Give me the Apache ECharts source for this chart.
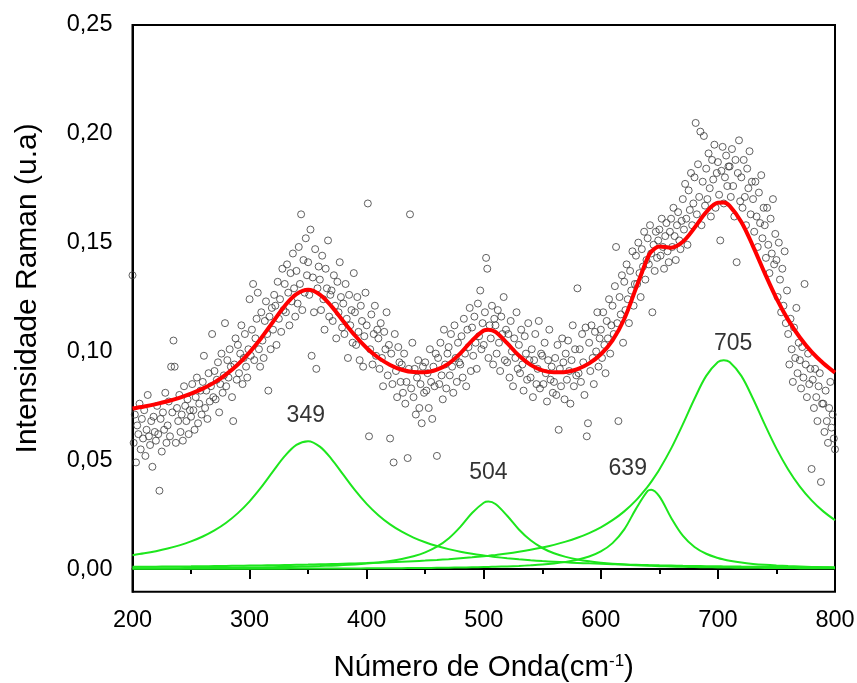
<!DOCTYPE html>
<html>
<head>
<meta charset="utf-8">
<script src="https://cdn.jsdelivr.net/npm/echarts@6/dist/echarts.min.js"></script>
<style>
  html, body { margin: 0; padding: 0; background: #fff; }
  #chart { width: 857px; height: 683px; }
</style>
</head>
<body>
<div id="chart"></div>
<script>
// measured spectrum, one point per cm-1 starting at 200 (intensity in 1e-3 u.a)
const spectrumStart = 200
const ramanIntensity = [
  135, 58, 71, 49, 66, 62, 76, 55, 69, 60,
  73, 52, 64, 80, 61, 57, 68, 47, 70, 63,
  59, 75, 62, 36, 69, 54, 72, 64, 81, 58,
  66, 77, 61, 93, 72, 105, 93, 58, 74, 68,
  80, 63, 71, 59, 84, 75, 68, 78, 62, 73,
  70, 85, 73, 64, 79, 88, 67, 76, 82, 71,
  86, 98, 74, 82, 69, 90, 77, 84, 108, 79,
  91, 78, 87, 95, 72, 85, 99, 81, 89, 113,
  84, 96, 88, 101, 93, 79, 68, 94, 106, 87,
  103, 90, 99, 112, 85, 97, 108, 93, 88, 101,
  124, 98, 110, 131, 96, 106, 115, 127, 101, 93,
  118, 105, 97, 114, 123, 108, 82, 116, 101, 120,
  110, 126, 121, 103, 132, 115, 124, 109, 138, 119,
  131, 118, 140, 127, 112, 136, 123, 145, 129, 116,
  137, 122, 148, 131, 163, 119, 142, 127, 152, 135,
  141, 126, 156, 98, 134, 118, 147, 92, 129, 139,
  133, 119, 144, 124, 110, 138, 129, 151, 116, 126,
  128, 114, 135, 121, 106, 132, 118, 141, 125, 111,
  122, 108, 131, 115, 97, 126, 112, 119, 104, 136,
  118, 103, 125, 109, 96, 121, 114, 93, 107, 127,
  112, 168, 61, 101, 117, 94, 108, 121, 98, 110,
  106, 92, 113, 97, 84, 109, 101, 118, 89, 103,
  60, 99, 85, 49, 108, 91, 79, 102, 95, 86,
  94, 81, 99, 76, 86, 51, 92, 163, 83, 104,
  79, 92, 71, 88, 96, 74, 85, 67, 93, 81,
  95, 82, 90, 74, 101, 86, 69, 93, 84, 99,
  52, 97, 85, 104, 89, 78, 110, 94, 83, 99,
  102, 89, 108, 93, 81, 112, 97, 86, 104, 95,
  94, 107, 88, 115, 99, 84, 110, 102, 120, 91,
  111, 98, 116, 104, 92, 122, 107, 128, 101, 113,
  103, 118, 143, 138, 97, 112, 106, 121, 94, 115,
  112, 99, 119, 104, 91, 116, 108, 125, 96, 110,
  95, 108, 88, 114, 100, 84, 106, 97, 118, 92,
  103, 90, 110, 94, 82, 107, 99, 87, 113, 96,
  88, 101, 79, 96, 108, 85, 92, 114, 83, 99,
  98, 85, 104, 90, 77, 96, 110, 87, 93, 81,
  86, 97, 80, 103, 64, 92, 84, 106, 95, 78,
  99, 87, 105, 91, 76, 96, 112, 84, 101, 89,
  129, 90, 101, 86, 108, 95, 80, 111, 61, 67,
  104, 91, 112, 97, 85, 109, 100, 118, 93, 106,
  110, 97, 118, 103, 90, 114, 106, 124, 99, 112,
  121, 108, 130, 148, 113, 68, 125, 117, 135, 104,
  132, 119, 140, 124, 113, 137, 128, 146, 121, 131,
  144, 131, 150, 136, 125, 147, 139, 155, 133, 142,
  152, 140, 158, 145, 118, 149, 137, 155, 143, 151,
  156, 144, 161, 148, 138, 153, 159, 146, 141, 155,
  161, 148, 166, 153, 142, 158, 164, 151, 147, 160,
  170, 156, 177, 161, 149, 174, 165, 182, 158, 168,
  180, 205, 163, 186, 171, 201, 158, 178, 199, 167,
  184, 170, 191, 175, 162, 188, 179, 195, 166, 182,
  187, 172, 151, 183, 194, 168, 180, 190, 176, 185,
  185, 171, 193, 176, 162, 188, 141, 182, 197, 169,
  180, 166, 188, 171, 158, 184, 175, 192, 163, 178,
  170, 155, 178, 162, 148, 173, 159, 181, 152, 166,
  158, 143, 166, 149, 136, 161, 145, 170, 140, 154,
  142, 125, 150, 133, 118, 138, 121, 146, 113, 128,
  108, 94, 115, 101, 86, 111, 97, 120, 90, 104,
  96, 83, 102, 88, 131, 94, 79, 99, 85, 92,
  46, 87, 74, 92, 79, 68, 84, 90, 40, 76,
  76, 63, 82, 68, 58, 74, 86, 65, 71, 60,
  55
]

// fitted curves, sampled every 10 cm-1 plus the peak centres 504, 643, 705
const fitX = [
  200, 210, 220, 230, 240, 250, 260, 270, 280, 290,
  300, 310, 320, 330, 340, 350, 360, 370, 380, 390,
  400, 410, 420, 430, 440, 450, 460, 470, 480, 490,
  500, 504, 510, 520, 530, 540, 550, 560, 570, 580, 590,
  600, 610, 620, 630, 640, 643, 650, 660, 670, 680, 690,
  700, 705, 710, 720, 730, 740, 750, 760, 770, 780, 790,
  800
]
const fitTotal = [
  .0738, .0747, .0758, .0771, .0787, .0806, .0829, .0858, .0895, .0940,
  .0996, .1062, .1136, .1209, .1263, .1283, .1261, .1207, .1139, .1073,
  .1016, .0971, .0938, .0916, .0905, .0904, .0916, .0944, .0991, .1050,
  .1096, .1100, .1090, .1038, .0981, .0938, .0913, .0904, .0906, .0919, .0945,
  .0987, .1051, .1149, .1290, .1431, .1458, .1482, .1477, .1504, .1568, .1640,
  .1683, .1684, .1669, .1595, .1483, .1360, .1244, .1145, .1064, .0998, .0946,
  .0903
]
const peak349 = [
  .00638, .00722, .00822, .00943, .0109, .01271, .01497, .01778, .0213, .02571,
  .03114, .03763, .04485, .05187, .05709, .05878, .05628, .05056, .04338, .03626,
  .02997, .02475, .02053, .01716, .01447, .01232, .01058, .00917, .008, .00704,
  .00623, .00595, .00555, .00498, .00448, .00406, .00369, .00337, .00308, .00284, .00262,
  .00242, .00224, .00209, .00195, .00182, .00178, .0017, .0016, .0015, .00142, .00134,
  .00126, .00123, .0012, .00113, .00108, .00102, .00097, .00093, .00088, .00084, .00081,
  .00077
]
const peak504 = [
  .00032, .00034, .00037, .00039, .00042, .00046, .00049, .00054, .00058, .00064,
  .0007, .00077, .00086, .00095, .00107, .00121, .00137, .00158, .00182, .00213,
  .00253, .00304, .00372, .00463, .00589, .00768, .01028, .01407, .01939, .02575,
  .03049, .031, .02988, .02448, .0182, .0132, .00968, .00727, .0056, .00442, .00356,
  .00293, .00244, .00207, .00177, .00153, .00147, .00134, .00118, .00104, .00093, .00084,
  .00076, .00072, .00069, .00063, .00057, .00053, .00048, .00045, .00042, .00039, .00036,
  .00034
]
const peak639 = [
  .0001, .0001, .00011, .00011, .00012, .00013, .00013, .00014, .00015, .00015,
  .00016, .00017, .00018, .0002, .00021, .00022, .00024, .00026, .00028, .0003,
  .00032, .00035, .00038, .00042, .00046, .00051, .00057, .00064, .00071, .00081,
  .00092, .00097, .00106, .00123, .00145, .00173, .00208, .0026, .0033, .00429, .00578,
  .00812, .01193, .01825, .02766, .03589, .0365, .03341, .0236, .01535, .01017, .00705,
  .00511, .00441, .00385, .00299, .00238, .00194, .00161, .00136, .00116, .001, .00087,
  .00077
]
const peak705 = [
  .00103, .00107, .00111, .00116, .00121, .00126, .00132, .00138, .00144, .00151,
  .00159, .00167, .00175, .00185, .00195, .00205, .00217, .0023, .00244, .00259,
  .00276, .00295, .00315, .00338, .00363, .0039, .00421, .00456, .00496, .0054,
  .00591, .00613, .00649, .00715, .00793, .00883, .00988, .01113, .01261, .01439, .01655,
  .0192, .02246, .02651, .03157, .0379, .04009, .04577, .05534, .06646, .07825, .08876,
  .09514, .096, .09514, .08876, .07825, .06646, .05534, .04577, .0379, .03157, .02651,
  .02246
]

const peakNames = ['349', '504', '639', '705']
const peakLabelX = [348, 504, 623, 713]
const peakLabelY = [0.0703, 0.0441, 0.046, 0.1034]

const yTicks = [0, 0.05, 0.1, 0.15, 0.2, 0.25]

const FONT = '"Liberation Sans", Arial, sans-serif'
const GREEN = '#1de61d'

const scatterData = ramanIntensity.map((v, i) => [spectrumStart + i, v / 1000])
const pairs = arr => fitX.map((x, i) => [x, arr[i]])

function greenLine(arr) {
  return {
    type: 'line',
    data: pairs(arr),
    smooth: 0.35,
    showSymbol: false,
    lineStyle: { color: GREEN, width: 2 },
    z: 3,
    silent: true
  }
}

const chart = echarts.init(document.getElementById('chart'), null, { renderer: 'canvas' })
chart.setOption({
  animation: false,
  backgroundColor: '#fff',
  grid: {
    left: 132.5, right: 22, top: 25, bottom: 91.3,
    outerBoundsMode: 'none',
    show: true, borderColor: '#000', borderWidth: 2, backgroundColor: 'transparent'
  },
  xAxis: {
    type: 'value',
    min: 200, max: 800, interval: 100,
    name: 'Número de Onda(cm{sup|-1})',
    nameLocation: 'middle',
    nameGap: 61,
    nameTextStyle: {
      fontFamily: FONT, fontSize: 29.5, color: '#000',
      rich: { sup: { fontFamily: FONT, fontSize: 17, verticalAlign: 'top', color: '#000' } }
    },
    axisLine: { lineStyle: { color: '#000', width: 2 } },
    axisTick: { show: true, length: 10, lineStyle: { color: '#000', width: 2 } },
    minorTick: { show: true, splitNumber: 2, length: 5, lineStyle: { color: '#000', width: 2 } },
    axisLabel: { fontFamily: FONT, fontSize: 23.5, color: '#000', margin: 17 },
    splitLine: { show: false }
  },
  yAxis: {
    type: 'value',
    min: -0.0104, max: 0.25,
    name: 'Intensidade Raman (u.a)',
    nameLocation: 'middle',
    nameGap: 90,
    nameTextStyle: { fontFamily: FONT, fontSize: 30, color: '#000', padding: [0, 0, 0, 40] },
    axisLine: { show: true, lineStyle: { color: '#000', width: 2 } },
    axisTick: { show: false },
    axisLabel: {
      customValues: yTicks,
      fontFamily: FONT, fontSize: 23.5, color: '#000', margin: 20,
      formatter: v => v.toFixed(2).replace('.', ',')
    },
    splitLine: { show: false }
  },
  series: [
    {
      type: 'scatter',
      data: scatterData,
      symbol: 'circle',
      symbolSize: 7,
      itemStyle: { color: 'rgba(0,0,0,0)', borderColor: '#3a3a3a', borderWidth: 1 },
      z: 2,
      silent: true
    },
    greenLine(peak349),
    greenLine(peak504),
    greenLine(peak639),
    greenLine(peak705),
    {
      type: 'line',
      data: pairs(fitTotal),
      smooth: 0.35,
      showSymbol: false,
      lineStyle: { color: '#f00', width: 4 },
      z: 4,
      silent: true
    },
    {
      type: 'scatter',
      data: peakNames.map((n, i) => ({ value: [peakLabelX[i], peakLabelY[i]], name: n })),
      symbolSize: 1,
      itemStyle: { color: 'rgba(0,0,0,0)' },
      label: {
        show: true, position: 'inside', formatter: p => p.name,
        fontFamily: FONT, fontSize: 23, color: '#000'
      },
      z: 5,
      silent: true
    }
  ]
})
</script>
</body>
</html>
